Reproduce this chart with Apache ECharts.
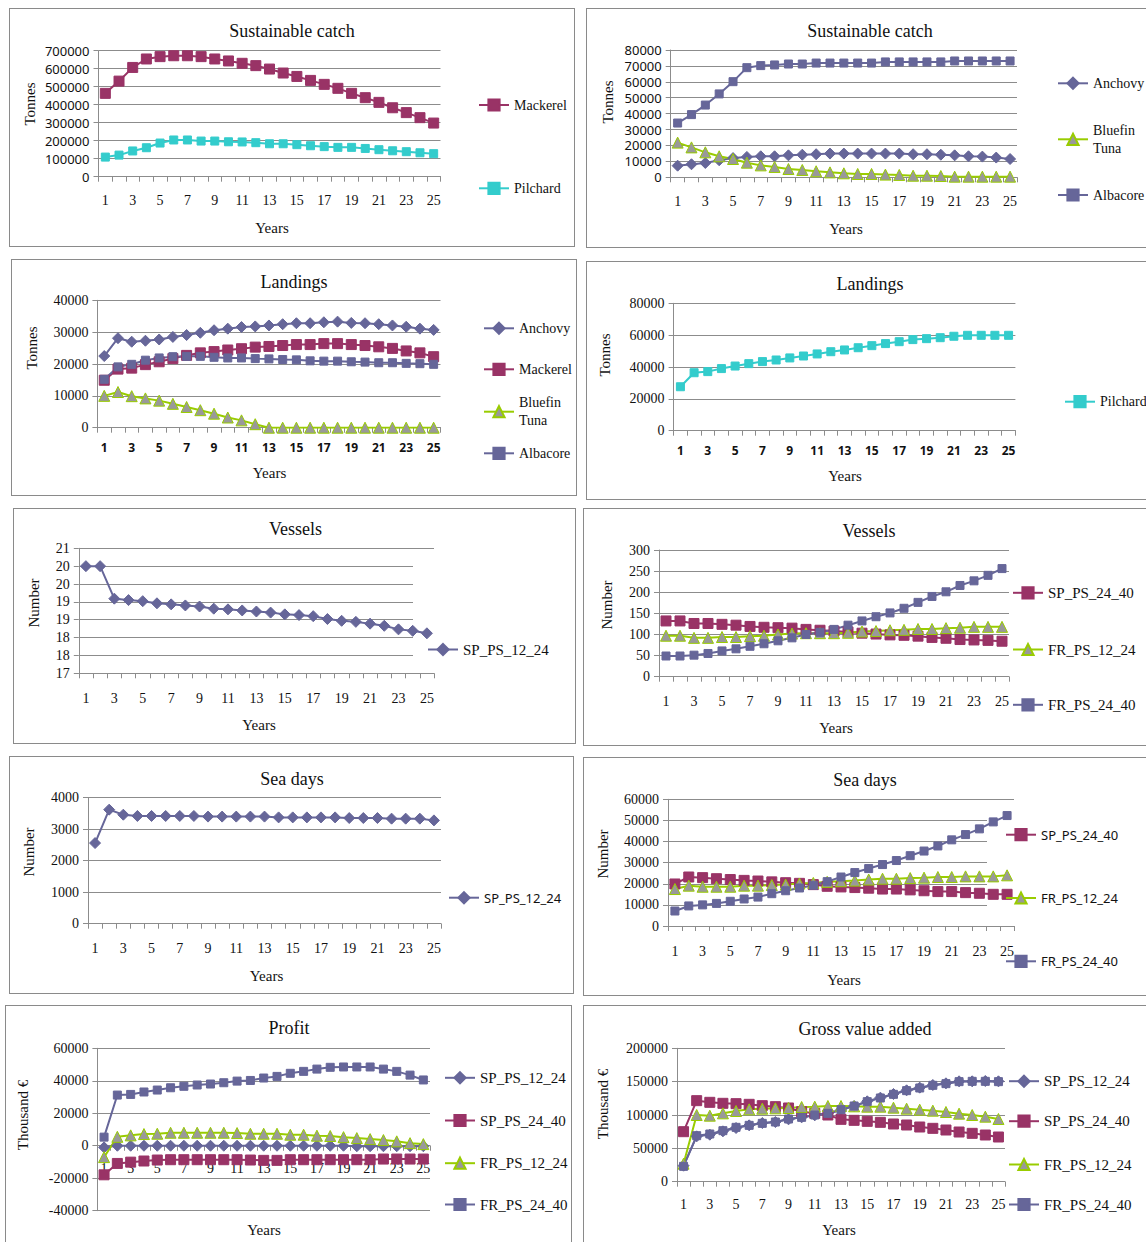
<!DOCTYPE html>
<html><head><meta charset="utf-8">
<script src="https://cdn.jsdelivr.net/npm/echarts@6/dist/echarts.min.js"></script>
<style>
html,body{margin:0;padding:0;background:#fff;overflow:hidden;width:1146px;height:1242px;position:relative;}
.panel{position:absolute;border:1px solid #8a8a8a;box-sizing:border-box;background:#fff;overflow:hidden;}
.panel>div{position:absolute;left:0;top:0;}
</style></head><body>
<script>
// ---------- DATA ----------
const years = ['1','2','3','4','5','6','7','8','9','10','11','12','13','14','15','16','17','18','19','20','21','22','23','24','25'];

// Sustainable catch (left)
const scMackerel = [463000,531000,607000,654000,667000,672000,672000,667000,654000,643000,630000,617000,598000,576000,557000,535000,513000,491000,463000,439000,413000,383000,356000,328000,298000];
const scPilchard = [109000,120000,143000,161000,187000,204000,204000,198000,198000,194000,193000,189000,183000,183000,178000,172000,167000,163000,163000,157000,150000,144000,139000,133000,128000];

// Sustainable catch (right)
const scAnchovy = [7300,8200,9000,10700,12100,12800,13200,13200,13800,14200,14500,14900,14900,14900,14900,14900,14900,14500,14500,14200,13800,13200,13000,12400,11500];
const scBluefin = [21800,18800,15700,13200,11500,9200,7500,6500,5200,4600,3800,3100,2500,2100,2100,1700,1500,1000,1000,800,400,400,400,400,400];
const scAlbacore = [34100,39400,45400,52400,60100,68900,70200,70600,71200,71200,71800,71800,71800,71800,71800,72500,72500,72500,72500,72500,73100,73100,73100,73100,73100];

// Landings (left)
const ldAnchovy = [22500,28100,27000,27300,27700,28500,29100,29800,30600,31100,31600,31800,32100,32500,32800,32800,33100,33300,32900,32800,32500,32100,31700,31100,30700];
const ldMackerel = [14900,18400,18700,19800,20700,21700,22700,23500,23900,24400,24800,25300,25500,25800,26100,26100,26400,26400,26100,25800,25400,24900,24100,23500,22300];
const ldBluefin = [10000,11200,9900,9200,8500,7500,6500,5500,4400,3200,2300,1100,0,0,0,0,0,0,0,0,0,0,0,0,0];
const ldAlbacore = [15200,19100,19900,21200,21900,22300,22400,22400,22100,21900,21900,21700,21600,21400,21300,21000,20900,20900,20700,20600,20400,20400,20200,20100,19900];

// Landings (right)
const ldPilchard = [27600,36400,37100,39000,40600,42100,43400,44400,45700,46900,48200,49600,50700,52100,53400,54700,55900,57200,57800,58400,59300,59900,59900,59900,59900];

// Vessels
const vsSP1224 = [20.0,20.0,19.09,19.05,19.02,18.96,18.93,18.90,18.87,18.81,18.79,18.76,18.73,18.70,18.65,18.63,18.60,18.52,18.47,18.44,18.39,18.33,18.23,18.19,18.12];
const vsSP2440 = [132,132,126,126,124,122,119,117,116,115,112,110,108,106,103,101,99,98,96,93,91,88,87,86,84];
const vsFR1224 = [97,97,92,92,94,94,96,97,100,102,103,103,103,104,107,108,110,111,113,113,115,116,118,118,118];
const vsFR2440 = [49,49,51,55,61,66,72,78,85,92,100,105,112,122,132,142,151,162,176,190,201,216,227,240,256];

// Sea days
const sdSP1224 = [2560,3620,3460,3420,3420,3420,3420,3420,3400,3400,3400,3400,3400,3375,3375,3375,3375,3375,3355,3355,3355,3335,3335,3335,3280];
const sdSP2440 = [19900,23200,22900,22400,22000,21600,21300,20900,20500,20200,19600,18800,18500,18200,17900,17500,17500,17100,16700,16300,16300,15800,15500,15000,15000];
const sdFR1224 = [17500,19100,18600,18600,18600,19100,19100,19400,19600,20100,20400,20900,21200,21500,22000,22400,22400,22700,22900,23200,23200,23500,23500,23500,24000];
const sdFR2440 = [7100,9500,10000,10700,11700,12800,13700,15300,16700,18000,19300,21000,23200,25300,27200,29100,31000,33300,35500,37900,40800,43300,46000,49300,52300];

// Profit
const prSP1224 = [-1000,0,0,0,0,0,0,0,0,0,0,0,0,0,0,0,0,0,0,-300,-300,-300,-300,-300,-300];
const prSP2440 = [-17900,-10900,-10100,-9400,-8800,-8600,-8600,-8600,-8600,-8600,-8600,-8800,-9000,-9000,-8600,-8600,-8600,-8600,-8600,-8600,-8600,-8200,-8200,-8200,-8200];
const prFR1224 = [-7000,5500,6400,7200,7400,8000,8000,8000,8000,8000,7800,7400,7400,7400,6800,6800,6200,6000,5300,4700,4100,3500,2700,1600,1000];
const prFR2440 = [5300,31200,31600,33100,34300,35700,36600,37400,38000,38800,39800,40200,41700,42700,44600,45800,47200,48300,48500,48500,48500,47200,45800,43500,40500];

// Gross value added
const gvSP1224 = [24000,68000,70500,75500,80500,84500,88000,89500,93500,96500,99500,102000,107500,113500,120500,126000,131500,137000,141000,145000,147500,150500,150500,151000,150500];
const gvSP2440 = [75000,121500,119000,117500,117000,116000,114000,112500,110500,105000,102500,100000,93500,92000,90500,89000,86500,85000,82000,80000,77500,74500,72500,70000,67000];
const gvFR1224 = [27000,100000,99000,102500,106000,108500,109500,110000,110500,112000,112500,113500,113500,113000,112500,112500,111000,109500,108000,106500,104500,102000,100000,97500,94000];
const gvFR2440 = [23000,69000,71500,76500,81500,84500,87500,89500,94000,96500,100000,102500,108000,113500,120000,125500,131000,136500,140500,144500,147000,150000,150500,150500,150000];

// ---------- STYLES ----------
const SERIF = '"Liberation Serif","DejaVu Serif",serif';
const SANS = '"Noto Sans","Open Sans",sans-serif';
const GRID = '#8c8c8c';
const MAROON = '#993366', SLATE = '#666699', CYAN = '#33CCCC', GREEN = '#99CC00', GREY = '#999999';
const ST = {
  maroonSq: {symbol:'rect', size:10, line:MAROON, fill:MAROON, border:MAROON},
  slateDia: {symbol:'diamond', size:11, line:SLATE, fill:SLATE, border:SLATE},
  slateSq:  {symbol:'rect', size:8, line:SLATE, fill:SLATE, border:SLATE},
  cyanSq:   {symbol:'rect', size:8, line:CYAN, fill:CYAN, border:CYAN},
  greenTri: {symbol:'triangle', size:11, line:GREEN, fill:GREY, border:GREEN}
};

const panels = [
 {box:[9,8,566,239], plot:[98.5,440.5,50.7,176.7], title:['Sustainable catch',292,31], yrs:[272,228], yname:['Tonnes',30,104],
  y:{min:0,max:700000,interval:100000}, yFont:{f:SANS,s:13}, xFont:{f:SERIF,s:14}, xMargin:17,
  series:[['Mackerel',scMackerel,'maroonSq',105],['Pilchard',scPilchard,'cyanSq',188.3]], legX:478, legFont:{f:SERIF,s:14}},
 {box:[586,8,570,240], plot:[670.7,1017,50,177.3], title:['Sustainable catch',870,31], yrs:[846,229], yname:['Tonnes',608,102],
  y:{min:0,max:80000,interval:10000}, yFont:{f:SANS,s:13}, xFont:{f:SERIF,s:14}, xMargin:17,
  series:[['Anchovy',scAnchovy,'slateDia',83.3],['Bluefin Tuna',scBluefin,'greenTri',139.3],['Albacore',scAlbacore,'slateSq',195]], legX:1057, legFont:{f:SERIF,s:14}},
 {box:[11,259,566,237], plot:[97.4,440.5,300.3,427.7], title:['Landings',294,282], yrs:[269.5,473], yname:['Tonnes',31.6,348],
  y:{min:0,max:40000,interval:10000}, yFont:{f:SERIF,s:14}, xFont:{f:SANS,s:12,w:'bold'}, xMargin:14,
  series:[['Anchovy',ldAnchovy,'slateDia',328.3],['Mackerel',ldMackerel,'maroonSq',369.3],['Bluefin Tuna',ldBluefin,'greenTri',411.7],['Albacore',ldAlbacore,'slateSq',453.3]], legX:483, legFont:{f:SERIF,s:14}},
 {box:[586,261,570,239], plot:[673.6,1015.4,303.3,430.7], title:['Landings',870,284], yrs:[845,476], yname:['Tonnes',605,355],
  y:{min:0,max:80000,interval:20000}, yFont:{f:SERIF,s:14}, xFont:{f:SANS,s:12,w:'bold'}, xMargin:14,
  series:[['Pilchard',ldPilchard,'cyanSq',401.7]], legX:1064, legFont:{f:SERIF,s:14}},
 {box:[13,508,563,236], plot:[78.8,434,548.3,673.3], title:['Vessels',295.5,529], yrs:[259,725], yname:['Number',34,603],
  y:{min:17,max:20.5,interval:0.5,fmt:v=>String(Math.round(v))}, yFont:{f:SERIF,s:14}, xFont:{f:SERIF,s:14}, xMargin:18,
  series:[['SP_PS_12_24',vsSP1224,'slateDia',649]], legX:427, legFont:{f:SERIF,s:15}, cover:[413,553,440,670]},
 {box:[583,508,570,238], plot:[659,1009,550,676.7], title:['Vessels',869,531], yrs:[836,728], yname:['Number',607,605],
  y:{min:0,max:300,interval:50}, yFont:{f:SERIF,s:14}, xFont:{f:SERIF,s:14}, xMargin:18,
  series:[['SP_PS_24_40',vsSP2440,'maroonSq',592.3],['FR_PS_12_24',vsFR1224,'greenTri',649],['FR_PS_24_40',vsFR2440,'slateSq',704.3]], legX:1012, legFont:{f:SERIF,s:15}},
 {box:[9,756,565,238], plot:[88,441,797.7,923.7], title:['Sea days',292,779], yrs:[266.5,976], yname:['Number',29,852],
  y:{min:0,max:4000,interval:1000}, yFont:{f:SERIF,s:14}, xFont:{f:SERIF,s:14}, xMargin:18,
  series:[['SP_PS_12_24',sdSP1224,'slateDia',897.7]], legX:448, legFont:{f:SANS,s:13}},
 {box:[583,757,570,239], plot:[668,1014,799.3,926], title:['Sea days',865,780], yrs:[844,980], yname:['Number',602.5,854],
  y:{min:0,max:60000,interval:10000}, yFont:{f:SERIF,s:14}, xFont:{f:SERIF,s:14}, xMargin:18,
  series:[['SP_PS_24_40',sdSP2440,'maroonSq',834.7],['FR_PS_12_24',sdFR1224,'greenTri',898],['FR_PS_24_40',sdFR2440,'slateSq',961.3]], legX:1005, legFont:{f:SANS,s:13}, cover:[987,804,1020,922]},
 {box:[5,1005,567,250], plot:[97.4,430,1048.3,1210.7], title:['Profit',289,1028], yrs:[264,1230], yname:['Thousand €',23,1115],
  y:{min:-40000,max:60000,interval:20000}, yFont:{f:SERIF,s:14}, xFont:{f:SERIF,s:14}, xMargin:16,
  series:[['SP_PS_12_24',prSP1224,'slateDia',1077.3],['SP_PS_24_40',prSP2440,'maroonSq',1120],['FR_PS_12_24',prFR1224,'greenTri',1162.7],['FR_PS_24_40',prFR2440,'slateSq',1204]], legX:444, legFont:{f:SERIF,s:15}},
 {box:[583,1005,570,250], plot:[677,1005,1048.3,1181.7], title:['Gross value added',865,1029], yrs:[839,1230], yname:['Thousand €',602.5,1104],
  y:{min:0,max:200000,interval:50000}, yFont:{f:SERIF,s:14}, xFont:{f:SERIF,s:14}, xMargin:16,
  series:[['SP_PS_12_24',gvSP1224,'slateDia',1080.7],['SP_PS_24_40',gvSP2440,'maroonSq',1120.7],['FR_PS_12_24',gvFR1224,'greenTri',1164],['FR_PS_24_40',gvFR2440,'slateSq',1204]], legX:1008, legFont:{f:SERIF,s:15}}
];

function build(p) {
  const div = document.createElement('div');
  div.className = 'panel';
  Object.assign(div.style, {left:p.box[0]+'px', top:p.box[1]+'px', width:p.box[2]+'px', height:p.box[3]+'px'});
  document.body.appendChild(div);
  const inner = document.createElement('div');
  const W = p.box[2]-2, H = p.box[3]-2;
  inner.style.width = W+'px'; inner.style.height = H+'px';
  div.appendChild(inner);
  const ox = p.box[0]+1, oy = p.box[1]+1;
  const [L,R,T,B] = p.plot;
  const chart = echarts.init(inner, null, {renderer:'svg', width:W, height:H});
  const txt = (t,x,y,size,font,rot) => ({type:'text', x:x-ox, y:y-oy, rotation:rot||0, z:5,
      style:{text:t, fill:'#111', fontFamily:font, fontSize:size, align:'center', verticalAlign:'middle'}});
  const graphic = [
    txt(p.title[0], p.title[1], p.title[2], 18, SERIF),
    txt('Years', p.yrs[0], p.yrs[1], 15, SERIF),
    txt(p.yname[0], p.yname[1], p.yname[2], 15, SERIF, Math.PI/2)
  ];
  if (p.cover) {
    const c = p.cover;
    graphic.push({type:'rect', z:1, shape:{x:c[0]-ox, y:c[1]-oy, width:c[2]-c[0], height:c[3]-c[1]}, style:{fill:'#fff'}});
  }
  // category axis crosses the value axis at zero (as in the original): shift it up when the value range is negative below
  const xOffset = p.y.min < 0 ? -(B - T) * (0 - p.y.min) / (p.y.max - p.y.min) : 0;
  const series = p.series.map(s => {
    const st = ST[s[2]];
    return {name:s[0], type:'line', data:s[1], symbol:st.symbol, symbolSize:st.size, z:2,
      showSymbol:true, showAllSymbol:true,
      lineStyle:{color:st.line, width:2}, itemStyle:{color:st.fill, borderColor:st.border, borderWidth:1},
      emphasis:{disabled:true}};
  });
  const legend = p.series.map(s => {
    const multi = s[0].indexOf(' ') > 0;
    const fs = p.legFont.s;
    return {data:[s[0]], orient:'vertical', left:p.legX-ox, top: s[3]-oy-(multi ? 7+20 : 7),
      padding:0, itemWidth:30, itemHeight:14, itemGap:0, selectedMode:false,
      formatter: multi ? (n => n.replace(' ', '\n')) : undefined,
      textStyle: multi ? {fontFamily:p.legFont.f, fontSize:fs, color:'#111', lineHeight:18, padding:[18,0,0,0]}
                       : {fontFamily:p.legFont.f, fontSize:fs, color:'#111', lineHeight:14}};
  });
  chart.setOption({
    animation:false,
    grid:{left:L-ox, top:T-oy, width:R-L, height:B-T, containLabel:false},
    xAxis:{type:'category', data:years, boundaryGap:true, position:'bottom', offset:xOffset,
      axisLine:{show:true, onZero:false, lineStyle:{color:GRID, width:1}},
      axisTick:{show:true, interval:0, length:5, lineStyle:{color:GRID}},
      axisLabel:{interval:1, margin:p.xMargin, color:'#111', fontFamily:p.xFont.f, fontSize:p.xFont.s, fontWeight:p.xFont.w||'normal'},
      splitLine:{show:false}},
    yAxis:{type:'value', min:p.y.min, max:p.y.max, interval:p.y.interval,
      axisLine:{show:true, onZero:false, lineStyle:{color:GRID, width:1}},
      axisTick:{show:true, length:5, lineStyle:{color:GRID}},
      axisLabel:{margin:9, color:'#111', fontFamily:p.yFont.f, fontSize:p.yFont.s, formatter:p.y.fmt || (v=>String(v))},
      splitLine:{show:true, lineStyle:{color:GRID, width:1}}},
    legend, series, graphic
  });
}
panels.forEach(build);
</script>
</body></html>
